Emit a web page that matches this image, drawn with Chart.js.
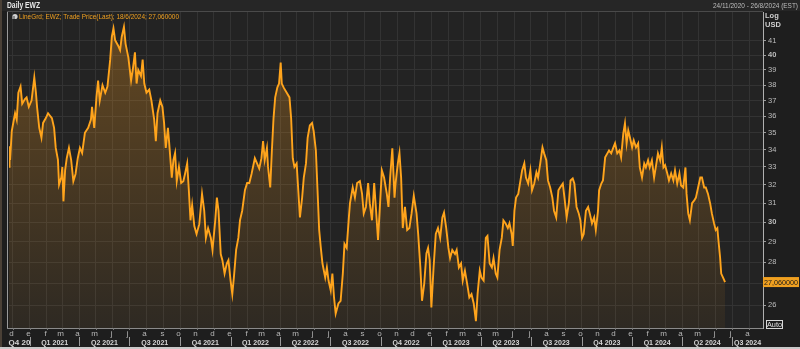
<!DOCTYPE html>
<html><head><meta charset="utf-8">
<script src="https://cdn.jsdelivr.net/npm/chart.js@4.4.0/dist/chart.umd.min.js"></script>
<style>
html,body{margin:0;padding:0;background:#1c1c1c;}
canvas{display:block;}
</style></head><body>
<canvas id="c" width="800" height="349"></canvas>
<script>
// ---- data ----
const START_DATE = '2020-11-24';
const END_DATE = '2024-08-26';
const LAST_DATE_LABEL = '18/6/2024';
const LAST_PRICE = 27.06;
// trading day offsets from START_DATE
const days = [0,1,2,5,11,14,17,21,24,29,32,36,41,46,49,51,55,59,62,67,71,78,82,85,89,91,95,97,99,102,105,109,113,117,121,125,129,133,138,144,149,151,155,159,162,165,170,175,179,184,187,190,193,198,202,205,209,212,217,222,225,229,232,235,240,243,246,250,255,259,264,267,270,275,279,282,285,289,291,296,299,302,305,309,313,317,320,324,327,330,333,337,341,346,351,355,358,362,367,370,375,378,381,385,388,392,396,399,403,406,409,413,417,420,424,429,433,437,441,447,451,455,459,462,465,469,471,475,478,481,484,488,491,494,496,500,505,510,513,516,519,523,526,529,533,536,540,543,547,551,554,558,561,564,567,570,575,578,581,585,588,591,594,599,603,607,610,614,618,620,625,629,633,638,642,645,649,653,656,660,664,667,671,675,678,682,687,690,693,697,701,703,707,710,713,716,720,724,728,732,736,741,744,748,751,755,759,762,765,768,772,776,780,784,788,791,795,799,802,806,811,814,818,822,825,829,833,837,841,845,849,852,856,859,863,867,870,874,878,881,885,888,892,896,899,903,907,910,914,916,919,922,926,930,933,937,940,944,948,951,955,959,962,966,970,973,977,980,984,988,991,995,999,1002,1007,1010,1014,1018,1021,1025,1028,1032,1036,1039,1042,1045,1049,1053,1056,1060,1064,1067,1071,1073,1077,1080,1084,1088,1091,1095,1099,1102,1106,1110,1113,1117,1120,1123,1126,1129,1133,1136,1140,1144,1147,1151,1155,1158,1162,1165,1169,1173,1176,1180,1184,1187,1190,1193,1197,1200,1204,1208,1211,1215,1219,1222,1226,1230,1232,1235,1238,1242,1246,1249,1253,1257,1260,1264,1267,1271,1275,1278,1282,1285,1288,1290,1293,1295,1299,1302];
const prices = [33.0,34.2,33.4,35.1,36.2,35.8,37.5,37.9,36.8,37.1,37.2,36.6,37.0,38.5,37.5,36.6,35.3,34.7,35.6,35.9,36.2,35.9,35.3,34.1,33.4,32.0,32.4,33.0,31.1,32.8,33.5,34.1,33.4,32.2,32.6,33.5,34.1,33.8,35.0,35.3,35.8,36.6,35.3,37.2,38.3,37.0,38.0,37.5,37.9,39.7,41.3,41.9,41.05,40.7,40.35,41.3,42.0,40.8,39.86,38.3,39.0,40.2,38.1,39.0,38.6,39.7,38.1,37.5,37.7,37.0,35.8,34.5,36.2,37.0,36.6,35.6,34.1,35.3,34.5,32.4,33.4,33.8,32.2,33.0,32.1,32.2,32.6,33.2,31.7,30.1,30.9,29.8,29.4,29.9,31.5,30.6,29.2,29.7,29.2,28.6,30.1,31.3,30.6,28.4,28.1,27.46,27.94,28.1,27.1,26.5,27.3,28.6,29.2,30.1,30.6,31.7,32.1,32.1,32.6,33.5,33.2,32.9,33.5,34.5,33.4,34.1,33.0,31.85,33.95,35.9,37.2,37.85,38.1,39.5,38.1,37.8,37.5,37.2,35.9,33.5,33.0,33.2,31.7,30.25,31.3,32.4,33.2,34.7,35.45,35.6,35.1,33.95,31.7,29.6,28.7,27.94,27.27,27.75,27.13,26.67,27.46,26.35,25.63,26.08,26.2,27.46,28.9,28.7,30.25,31.0,31.85,31.3,32.1,32.2,31.5,30.46,30.8,32.1,31.0,30.1,32.1,30.8,29.1,31.15,32.8,32.4,31.5,30.8,32.4,34.07,31.3,32.1,33.2,33.8,32.4,29.7,30.8,29.6,29.7,30.46,31.4,30.46,29.4,27.75,26.2,26.99,28.43,28.7,28.1,25.9,27.75,29.4,29.7,29.2,30.25,30.5,29.7,28.7,28.2,28.6,28.4,28.6,27.75,27.94,27.13,27.6,26.99,26.35,26.5,26.08,25.3,26.5,27.6,27.27,27.13,29.2,29.3,27.94,27.75,28.2,27.46,27.27,28.6,29.2,30.1,29.94,29.7,29.94,29.4,28.8,30.6,31.3,31.5,32.24,32.8,33.2,32.4,32.07,32.8,31.7,32.07,32.7,32.4,33.2,34.13,33.78,33.38,32.24,31.85,31.3,30.6,30.25,31.7,31.85,32.07,31.3,30.25,31.0,32.24,32.35,32.07,30.8,30.46,30.1,29.2,29.4,30.6,30.8,30.46,29.94,30.25,29.6,30.6,31.7,32.07,32.24,33.55,33.78,33.95,33.78,34.13,34.37,33.78,33.95,33.55,34.96,35.58,34.37,35.15,34.73,34.13,34.55,34.13,34.37,32.97,32.4,33.2,32.97,33.38,32.97,33.38,32.4,32.97,33.78,33.38,34.13,32.97,33.1,32.63,32.24,32.63,32.24,32.8,32.07,32.63,31.96,31.85,32.97,31.5,30.46,30.1,31.0,31.15,31.3,31.85,32.4,32.4,31.85,31.85,31.5,30.98,30.46,29.94,29.6,29.7,29.07,28.23,27.46,27.23,27.06];
const yTicks = [26,27,28,29,30,31,32,33,34,35,36,37,38,39,40,41];
const boldTicks = [30,40];
const Y_MIN = 25, Y_MAX = 43.1;
const monthLetters = ['e','f','m','a','m','j','j','a','s','o','n','d'];
const titleText = 'Daily EWZ';
const rangeText = '24/11/2020 - 26/8/2024 (EST)';
const seriesText = 'LineGrd; EWZ; Trade Price(Last); ' + LAST_DATE_LABEL + '; 27,060000';
const lastPriceText = '27,060000';

// ---- helpers ----
const DAY = 86400000;
function parseD(s){const p=s.split('-').map(Number);return Date.UTC(p[0],p[1]-1,p[2]);}
const t0 = parseD(START_DATE), t1 = parseD(END_DATE);
const totalDays = Math.round((t1-t0)/DAY);
const monthStarts = [];
{
  const d0 = new Date(t0);
  let y = d0.getUTCFullYear(), m = d0.getUTCMonth()+1;
  while (true) {
    const t = Date.UTC(y,m,1);
    if (t > t1) break;
    const dt = new Date(t);
    monthStarts.push({off:(t-t0)/DAY, month:dt.getUTCMonth(), year:dt.getUTCFullYear()});
    m++;
  }
}
const points = days.map((d,i)=>({x:d,y:prices[i]}));

function fitText(ctx, text, x, y, maxW, align){
  const w = ctx.measureText(text).width;
  const s = w > maxW ? maxW / w : 1;
  ctx.save();
  ctx.translate(x, y);
  ctx.scale(s, 1);
  ctx.textAlign = align || 'left';
  ctx.fillText(text, 0, 0);
  ctx.restore();
}

const decor = {
  id:'decor',
  beforeDraw(chart){
    const c = chart.ctx, a = chart.chartArea;
    c.save();
    c.fillStyle = '#1e1e1e';
    c.fillRect(0,0,800,349);
    c.fillStyle = '#232323';
    c.fillRect(a.left, a.top, a.right-a.left, a.bottom-a.top);
    c.fillStyle = '#262626';
    c.fillRect(0,0,800,11);
    c.fillStyle = '#4a4036';
    c.fillRect(0,0,2,349);
    c.restore();
  },
  afterDraw(chart){
    const c = chart.ctx, a = chart.chartArea, xs = chart.scales.x, ys = chart.scales.y;
    c.save();
    // frame
    c.strokeStyle = '#4a4a4a'; c.lineWidth = 1;
    c.beginPath(); c.moveTo(7, 11.5); c.lineTo(763, 11.5); c.stroke();
    c.strokeStyle = '#9a9a9a';
    c.beginPath(); c.moveTo(7.5, 12); c.lineTo(7.5, a.bottom); c.stroke();
    c.strokeStyle = '#8a8a8a';
    c.beginPath(); c.moveTo(7, a.bottom+0.5); c.lineTo(a.right, a.bottom+0.5); c.stroke();
    // header
    c.textBaseline = 'middle';
    c.fillStyle = '#e8e8e8';
    c.font = 'bold 8.5px "Liberation Sans", Arial, sans-serif';
    fitText(c, titleText, 7, 6, 33, 'left');
    c.fillStyle = '#bdbdbd';
    c.font = '8px "Liberation Sans", Arial, sans-serif';
    fitText(c, rangeText, 798, 6, 85, 'right');
    // series legend
    c.fillStyle = '#d0d0d0';
    c.beginPath(); c.arc(15, 16.5, 2.6, 0, Math.PI*2); c.fill();
    c.fillStyle = '#888';
    c.fillRect(12, 16, 3, 3);
    c.fillStyle = '#f0a020';
    c.font = '8px "Liberation Sans", Arial, sans-serif';
    fitText(c, seriesText, 19, 17, 160, 'left');
    // right axis header
    c.fillStyle = '#cfcfcf';
    c.font = 'bold 7.5px "Liberation Sans", Arial, sans-serif';
    c.textAlign = 'left';
    c.fillText('Log', 765, 16);
    c.fillText('USD', 765, 24.5);
    // last price label
    const yp = ys.getPixelForValue(LAST_PRICE);
    c.fillStyle = '#f0a020';
    c.fillRect(763, yp-5, 36, 10);
    c.fillStyle = '#1a1a1a';
    c.font = '8px "Liberation Sans", Arial, sans-serif';
    fitText(c, lastPriceText, 764, yp+0.5, 34, 'left');
    // Auto box
    c.strokeStyle = '#d8d8d8';
    c.strokeRect(766.5, 320.5, 16, 8);
    c.fillStyle = '#e0e0e0';
    c.font = '7.5px "Liberation Sans", Arial, sans-serif';
    fitText(c, 'Auto', 774.5, 324.8, 15, 'center');
    // bottom axis: month ticks, letters, quarter separators & labels
    c.font = '8px "Liberation Sans", Arial, sans-serif';
    c.fillStyle = '#b8b8b8';
    c.strokeStyle = '#777';
    monthStarts.forEach(ms => {
      const x = Math.round(xs.getPixelForValue(ms.off)) + 0.5;
      c.beginPath(); c.moveTo(x, a.bottom); c.lineTo(x, a.bottom+2); c.stroke();
      c.textAlign = 'center';
      c.fillText(monthLetters[ms.month], x-2, a.bottom+5.5);
    });
    const qStarts = monthStarts.filter(ms => ms.month % 3 === 0);
    c.strokeStyle = '#9a9a9a';
    qStarts.forEach(q => {
      const x = Math.round(xs.getPixelForValue(q.off)) + 0.5;
      c.beginPath(); c.moveTo(x, a.bottom+9); c.lineTo(x, a.bottom+18); c.stroke();
    });
    const bounds = [{off:0, month:9, year:2020}].concat(qStarts);
    c.font = 'bold 8px "Liberation Sans", Arial, sans-serif';
    c.fillStyle = '#d6d6d6';
    bounds.forEach((q, i) => {
      const xa = xs.getPixelForValue(q.off);
      const xb = i+1 < bounds.length ? xs.getPixelForValue(bounds[i+1].off) : a.right;
      const qn = Math.floor(q.month/3)+1;
      let label = 'Q' + qn + ' ' + q.year;
      if (xb - xa < 30) label = 'Q' + qn + ' ' + String(q.year).slice(0,2);
      fitText(c, label, (xa+xb)/2, a.bottom+14.5, 27, 'center');
    });
    c.fillStyle = '#c9c9c9';
    c.fillRect(0, 347, 800, 2);
    c.restore();
  }
};

new Chart(document.getElementById('c'), {
  type:'line',
  data:{datasets:[{
    data: points,
    borderColor:'#ffa41c',
    borderWidth:1.9,
    pointRadius:0,
    tension:0,
    fill:'start',
    backgroundColor:(ctx)=>{
      const ch = ctx.chart, ar = ch.chartArea;
      if (!ar) return 'rgba(255,160,30,0.15)';
      const g = ch.ctx.createLinearGradient(0, ar.top, 0, ar.bottom);
      g.addColorStop(0, 'rgba(255,160,30,0.30)');
      g.addColorStop(1, 'rgba(255,160,30,0.05)');
      return g;
    }
  }]},
  options:{
    responsive:false,
    animation:false,
    devicePixelRatio:1,
    layout:{padding:{left:9, top:12, right:0, bottom:0}},
    plugins:{legend:{display:false}, tooltip:{enabled:false}},
    scales:{
      x:{
        type:'linear', min:0, max:totalDays,
        afterBuildTicks:(s)=>{ s.ticks = monthStarts.map(m=>({value:m.off})); },
        afterFit:(s)=>{ s.height = 21; },
        ticks:{display:false},
        grid:{color:'#333333', drawTicks:false, lineWidth:1},
        border:{display:false}
      },
      y:{
        type:'logarithmic', position:'right', min:Y_MIN, max:Y_MAX,
        afterBuildTicks:(s)=>{ s.ticks = yTicks.map(v=>({value:v})); },
        afterFit:(s)=>{ s.width = 37; },
        ticks:{
          autoSkip:false,
          padding:2,
          color:'#bdbdbd',
          callback:(v)=> v===27 ? '' : String(v),
          font:(ctx)=>({family:'"Liberation Sans", Arial, sans-serif', size:7.5,
                        weight: (ctx.tick && boldTicks.includes(ctx.tick.value)) ? 'bold' : 'normal'})
        },
        grid:{color:'#333333', tickColor:'#9a9a9a', tickLength:3, lineWidth:1},
        border:{display:true, color:'#b0b0b0', width:1}
      }
    }
  },
  plugins:[decor]
});
</script>
</body></html>
